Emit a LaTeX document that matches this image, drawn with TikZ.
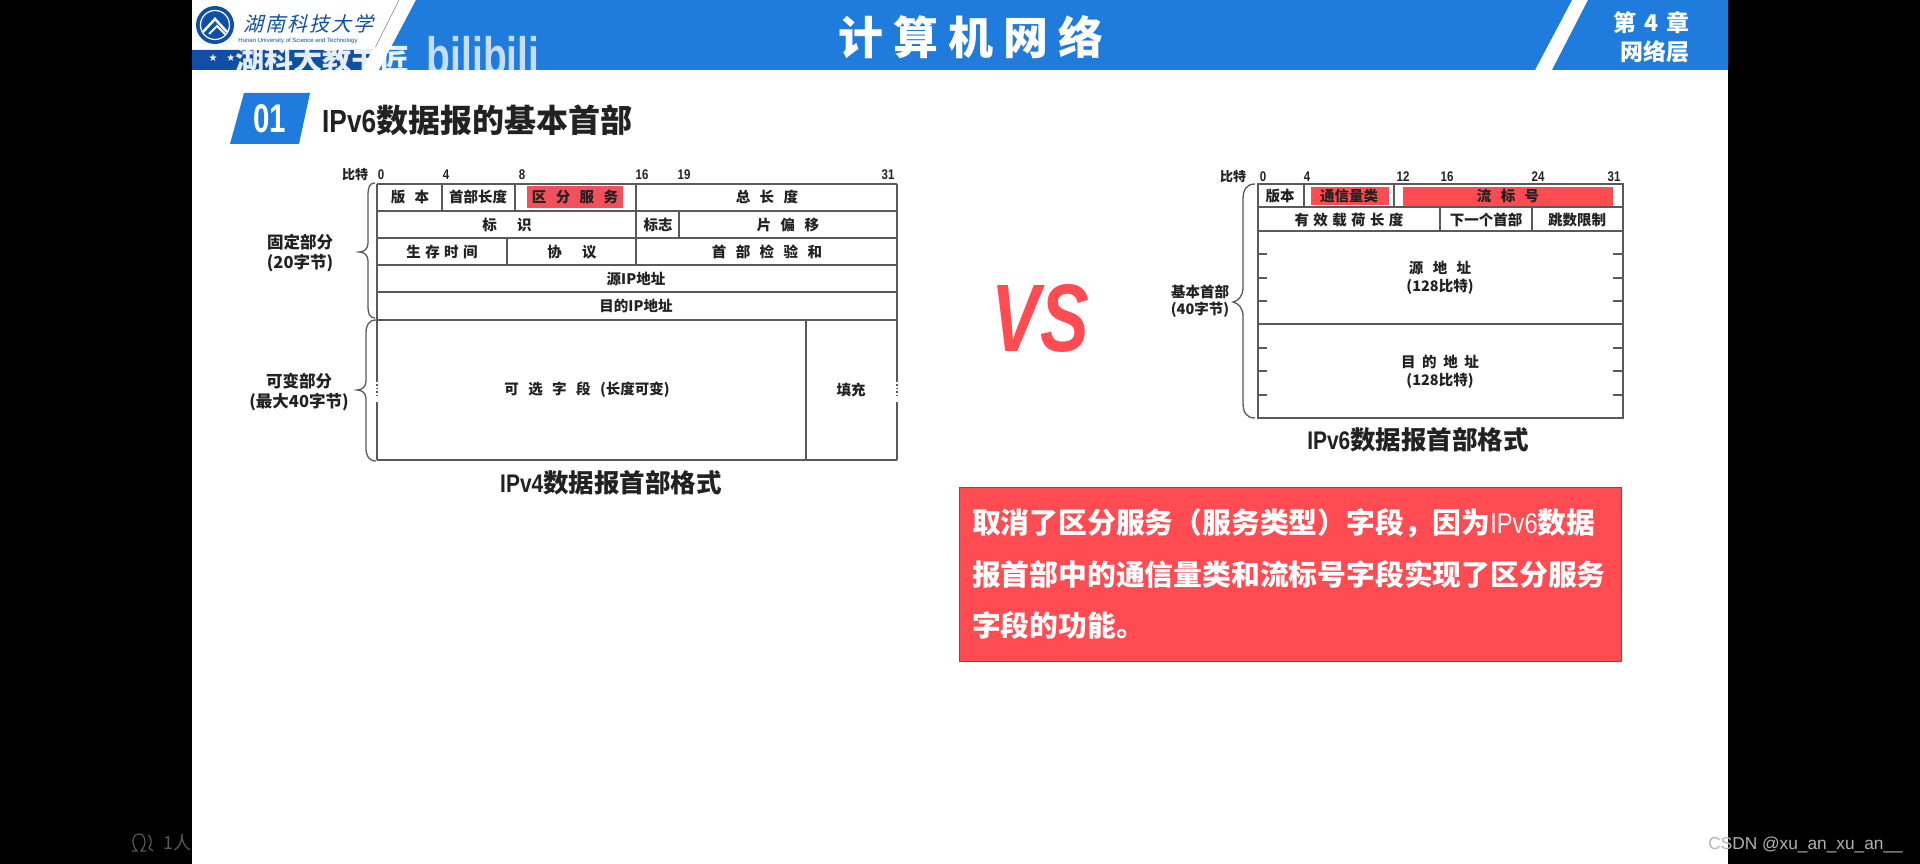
\documentclass[tikz,border=0pt]{standalone}
\usepackage{fontspec}
\usepackage{xcolor}
\setmainfont{Noto Sans CJK SC}
\newfontfamily\logofont[FakeSlant=0.25]{Noto Sans CJK SC}
\newfontfamily\latinfont{Liberation Sans}
\newfontfamily\narrowfont[FakeStretch=0.82]{Liberation Sans}
\newfontfamily\symfont{DejaVu Sans}
\newcommand{\pxfont}[1]{\fontsize{#1}{#1}\selectfont}
\newcommand{\wordgap}[1]{\spaceskip=#1em\relax}
\definecolor{headblue}{HTML}{1F7BDC}
\definecolor{banddark}{HTML}{0F4FA5}
\definecolor{slidered}{HTML}{FF4B52}
\definecolor{cellred}{HTML}{F2505A}
\definecolor{gridgray}{HTML}{5A5A5A}
\definecolor{inkdark}{HTML}{222222}
\tikzset{
    gridline/.style={draw=gridgray,line width=1.5pt},
    bracepath/.style={draw=gridgray,line width=1.3pt},
    plain/.style={inner sep=0pt,text=inkdark},
    bitlabel/.style={plain,font=\bfseries\pxfont{13}},
    bitnum/.style={plain,font=\narrowfont\bfseries\pxfont{14}},
    cell/.style={plain,font=\bfseries\pxfont{14.5}\wordgap{.65}},
    cellnarrow/.style={plain,font=\bfseries\pxfont{14.5}\wordgap{.3}},
    sidetext/.style={plain,align=center,font=\bfseries\fontsize{16.5}{20.5}\selectfont},
    capt/.style={plain,font=\bfseries\pxfont{25.5}},
    headtext/.style={inner sep=0pt,text=white,font=\bfseries\pxfont{23}},
    usermark/.style={draw=gray!70!black,line width=1.2pt}
}
\begin{document}
\begin{tikzpicture}[x=1pt,y=-1pt]
    \useasboundingbox (0,0) rectangle (1920,864);
    \fill [black] (0,0) rectangle (1920,864);
    \draw [usermark] (132,851)--(137,851) .. controls (134,847) and (133,845) .. (133,842) .. controls (133,837) and (135,834) .. (139,834) .. controls (143,834) and (145,837) .. (145,842) .. controls (145,845) and (144,847) .. (141,851)--(146,851);
    \draw [usermark] (148,835) .. controls (152,837) and (152,844) .. (149,848)--(153,851);
    \node [inner sep=0pt,text=gray!70!black,font=\pxfont{18},anchor=west] (usercount) at (163,843) {1人};
    \fill [white] (192,0) rectangle (1728,864);

    \fill [headblue] (416,0)--(1572,0)--(1535,70)--(379,70)--cycle;
    \fill [headblue] (1588,0)--(1728,0)--(1728,70)--(1552,70)--cycle;
    \fill [banddark] (192,50)--(372,50)--(362,70)--(192,70)--cycle;
    \draw [gray,line width=0.6pt] (399,0)--(375,48);
    \fill [banddark] (215,25) circle (19);
    \draw [white,line width=1.2pt] (215,25) circle (14.5);
    \draw [white,line width=2.5pt] (203,32)--(215,19)--(227,32);
    \draw [white,line width=2pt] (209,34)--(217,26)--(225,34);
    \node [inner sep=0pt,text=banddark,font=\logofont\pxfont{20}\wordgap{.1}] (logoname) at (308,24) {湖 南 科 技 大 学};
    \node [inner sep=0pt,text=banddark,font=\latinfont\pxfont{6}] (logoeng) at (298,41) {Hunan University of Science and Technology};
    \node [inner sep=0pt,text=white,font=\symfont\pxfont{10}] (bandstars) at (222,58) {★\hspace{9pt}★};
    \node [inner sep=0pt,text=white,opacity=0.9,font=\bfseries\pxfont{29}] (watermark) at (322,60) {湖科大教书匠};
    \node [inner sep=0pt,text=white,opacity=0.75,font=\latinfont\bfseries\pxfont{39},yscale=1.35] (bilimark) at (483,56) {bilibili};
    \node [inner sep=0pt,text=white,font=\bfseries\pxfont{45}\wordgap{.22}] (maintitle) at (971,37) {计 算 机 网 络};
    \node [headtext,anchor=east,font=\bfseries\pxfont{23}\wordgap{.35}] (chapter) at (1690,23) {第 4 章};
    \node [headtext,anchor=east] (chaptername) at (1690,52) {网络层};

    \fill [headblue] (244,93)--(310,93)--(299,144)--(230,144)--cycle;
    \node [inner sep=0pt,text=white,font=\narrowfont\bfseries\pxfont{40},xscale=0.9] (secnum) at (270,119) {01};
    \node [plain,anchor=west,font=\bfseries\pxfont{32}] (sectitle) at (322,120) {{\narrowfont IPv6}数据报的基本首部};

    \fill [cellred] (527,186) rectangle (623,208);
    \draw [gridline] (377,184)--(897,184);
    \draw [gridline] (377,211)--(897,211);
    \draw [gridline] (377,238)--(897,238);
    \draw [gridline] (377,265)--(897,265);
    \draw [gridline] (377,292)--(897,292);
    \draw [gridline] (377,320)--(897,320);
    \draw [gridline] (377,460)--(897,460);
    \draw [gridline] (377,184)--(377,382);
    \draw [gridline] (377,402)--(377,460);
    \draw [gridline] (897,184)--(897,382);
    \draw [gridline] (897,402)--(897,460);
    \draw [gridline,dotted] (377,384)--(377,398);
    \draw [gridline,dotted] (897,384)--(897,398);
    \draw [gridline] (442,184)--(442,211);
    \draw [gridline] (515,184)--(515,211);
    \draw [gridline] (636,184)--(636,265);
    \draw [gridline] (679,211)--(679,238);
    \draw [gridline] (507,238)--(507,265);
    \draw [gridline] (806,320)--(806,460);
    \draw [bracepath] (375,183) .. controls (369,183) and (368,188) .. (368,196) -- (368,243) .. controls (368,249) and (364,252) .. (359,252) .. controls (364,252) and (368,255) .. (368,261) -- (368,305) .. controls (368,313) and (369,318) .. (375,318);
    \draw [bracepath] (376,320) .. controls (369,320) and (366,325) .. (366,333) -- (366,381) .. controls (366,387) and (362,390) .. (357,390) .. controls (362,390) and (366,393) .. (366,399) -- (366,448) .. controls (366,456) and (369,461) .. (376,461);

    \node [bitlabel] (vfourbits) at (355,175) {比特};
    \node [bitnum] (vfourzero) at (381,175) {0};
    \node [bitnum] (vfourfour) at (446,175) {4};
    \node [bitnum] (vfoureight) at (522,175) {8};
    \node [bitnum] (vfoursixteen) at (642,175) {16};
    \node [bitnum] (vfournineteen) at (684,175) {19};
    \node [bitnum] (vfourend) at (888,175) {31};
    \node [cell] (vfourver) at (410,197) {版 本};
    \node [cell] (vfourihl) at (478,197) {首部长度};
    \node [cell] (vfourds) at (575,197) {区 分 服 务};
    \node [cell] (vfourlen) at (767,197) {总 长 度};
    \node [cell] (vfourid) at (507,225) {标\hspace{1.4em}识};
    \node [cell] (vfourflag) at (658,225) {标志};
    \node [cell] (vfouroff) at (788,225) {片 偏 移};
    \node [cellnarrow] (vfourttl) at (442,252) {生 存 时 间};
    \node [cell] (vfourproto) at (572,252) {协\hspace{1.4em}议};
    \node [cell] (vfoursum) at (767,252) {首 部 检 验 和};
    \node [cell] (vfoursrc) at (636,279) {源IP地址};
    \node [cell] (vfourdst) at (636,306) {目的IP地址};
    \node [cell] (vfouropt) at (587,390) {可 选 字 段 (长度可变)};
    \node [cell] (vfourpad) at (851,390) {填充};
    \node [sidetext] (vfourfixed) at (300,253) {固定部分\\(20字节)};
    \node [sidetext] (vfourvar) at (299,392) {可变部分\\(最大40字节)};
    \node [capt] (vfourcap) at (611,483) {{\narrowfont IPv4}数据报首部格式};

    \node [plain,text=slidered,font=\latinfont\bfseries\itshape\pxfont{96},xscale=0.76] (versus) at (1040,318) {VS};

    \fill [slidered] (1311,187) rectangle (1389,205);
    \fill [slidered] (1403,187) rectangle (1613,207);
    \draw [gridline] (1258,184) rectangle (1623,418);
    \draw [gridline] (1258,207)--(1623,207);
    \draw [gridline] (1258,231)--(1623,231);
    \draw [gridline] (1258,324)--(1623,324);
    \draw [gridline] (1304,184)--(1304,207);
    \draw [gridline] (1394,184)--(1394,207);
    \draw [gridline] (1440,207)--(1440,231);
    \draw [gridline] (1532,207)--(1532,231);
    \draw [gridline] (1258,254)--(1267,254);
    \draw [gridline] (1258,278)--(1267,278);
    \draw [gridline] (1258,301)--(1267,301);
    \draw [gridline] (1258,348)--(1267,348);
    \draw [gridline] (1258,371)--(1267,371);
    \draw [gridline] (1258,395)--(1267,395);
    \draw [gridline] (1613,254)--(1623,254);
    \draw [gridline] (1613,278)--(1623,278);
    \draw [gridline] (1613,301)--(1623,301);
    \draw [gridline] (1613,348)--(1623,348);
    \draw [gridline] (1613,371)--(1623,371);
    \draw [gridline] (1613,395)--(1623,395);
    \draw [bracepath] (1255,184) .. controls (1246,184) and (1243,190) .. (1243,200) -- (1243,288) .. controls (1243,296) and (1238,301) .. (1233,302) .. controls (1238,303) and (1243,308) .. (1243,316) -- (1243,402) .. controls (1243,412) and (1246,418) .. (1255,418);

    \node [bitlabel] (vsixbits) at (1233,177) {比特};
    \node [bitnum] (vsixzero) at (1263,177) {0};
    \node [bitnum] (vsixfour) at (1307,177) {4};
    \node [bitnum] (vsixtwelve) at (1403,177) {12};
    \node [bitnum] (vsixsixteen) at (1447,177) {16};
    \node [bitnum] (vsixtwentyfour) at (1538,177) {24};
    \node [bitnum] (vsixend) at (1614,177) {31};
    \node [cell] (vsixver) at (1280,196) {版本};
    \node [cell] (vsixclass) at (1349,196) {通信量类};
    \node [cell] (vsixflow) at (1508,196) {流 标 号};
    \node [cellnarrow] (vsixlen) at (1349,220) {有 效 载 荷 长 度};
    \node [cell] (vsixnext) at (1486,220) {下一个首部};
    \node [cell] (vsixhop) at (1577,220) {跳数限制};
    \node [plain,align=center,font=\bfseries\fontsize{14.5}{17.5}\selectfont\wordgap{.65}] (vsixsrc) at (1440,278) {源 地 址\\(128比特)};
    \node [plain,align=center,font=\bfseries\fontsize{14.5}{17.5}\selectfont\wordgap{.45}] (vsixdst) at (1440,372) {目 的 地 址\\(128比特)};
    \node [sidetext,font=\bfseries\fontsize{14.5}{17}\selectfont] (vsixbase) at (1200,301) {基本首部\\(40字节)};
    \node [capt] (vsixcap) at (1418,440) {{\narrowfont IPv6}数据报首部格式};

    \node [draw=slidered!70!black,line width=0.8pt,fill=slidered,text=white,minimum width=662pt,minimum height=174pt,text width=636pt,inner xsep=13pt,inner ysep=0pt,align=left,font=\bfseries\fontsize{28.8}{51.7}\selectfont] (notebox) at (1290,574) {取消了区分服务（服务类型）字段，因为{\narrowfont\mdseries IPv6}数据\\报首部中的通信量类和流标号字段实现了区分服务\\字段的功能。};

    \node [inner sep=0pt,text=black!30,font=\latinfont\pxfont{17.3},anchor=east] (csdnmark) at (1903,845) {CSDN @xu\_an\_xu\_an\_\_};
\end{tikzpicture}
\end{document}
